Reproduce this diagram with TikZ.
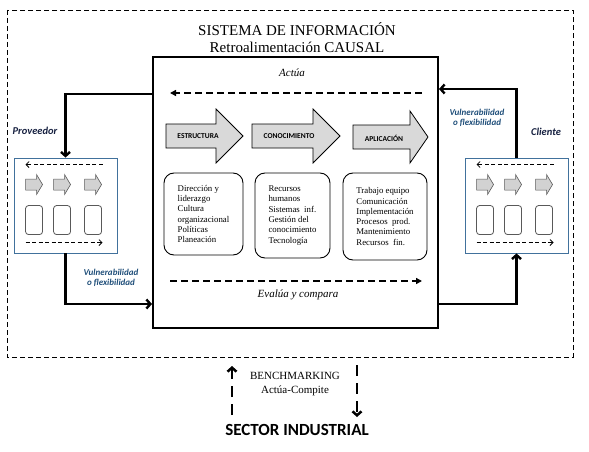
\documentclass[tikz,border=0pt]{standalone}
\usepackage{fontspec}
\setmainfont{Liberation Serif}
\newfontfamily\calib{Carlito}
\usetikzlibrary{arrows.meta,calc}
\definecolor{panelblue}{RGB}{65,113,156}
\definecolor{vulblue}{RGB}{31,78,121}
\definecolor{navytxt}{RGB}{22,32,64}
\definecolor{arrowgray}{RGB}{217,217,217}
\definecolor{smallgray}{RGB}{210,210,210}
\definecolor{smalledge}{RGB}{89,89,89}
\tikzset{
  mainbox/.style={draw,line width=2pt,minimum width=285pt,minimum height=271pt,inner sep=0pt},
  panel/.style={draw=panelblue,line width=0.9pt,minimum width=103pt,minimum height=95pt,inner sep=0pt,fill=white},
  conn/.style={line width=2.4pt,-{Straight Barb[length=4pt,width=9pt]}},
  bigarrow/.style={fill=arrowgray,draw=black,line width=0.8pt},
  biglbl/.style={font=\calib\bfseries\fontsize{7.5}{9}\selectfont,inner sep=0pt},
  rbox/.style={draw,line width=0.9pt,rounded corners=10pt,align=left,inner sep=0pt,
    font=\fontsize{8.8}{10.3}\selectfont},
  smallarrow/.style={fill=smallgray,draw=smalledge,line width=0.6pt},
  sbox/.style={draw=smalledge,line width=0.8pt,rounded corners=3pt},
  pdash/.style={line width=0.8pt,dash pattern=on 4pt off 2.5pt,-{Straight Barb[length=3pt,width=6pt]}},
  mdash/.style={line width=2pt,dash pattern=on 7pt off 4pt,-{Triangle[length=6pt,width=6pt]}},
  outerdash/.style={line width=0.9pt,dash pattern=on 5pt off 3pt},
  bdash/.style={line width=2.5pt,dash pattern=on 11pt off 7pt,-{Straight Barb[length=4pt,width=9pt]}},
  lbl/.style={inner sep=0pt,align=center},
  sidelbl/.style={inner sep=0pt,font=\calib\bfseries\itshape\fontsize{10.5}{12}\selectfont,text=navytxt},
  vullbl/.style={inner sep=0pt,align=center,font=\calib\bfseries\itshape\fontsize{9}{10.5}\selectfont,text=vulblue}
}
\newcommand\panelstuff[1]{%
  \begin{scope}[shift={(#1.north west)}]
    \draw[pdash] (89,7) -- (12,7);
    \foreach \xx in {12,40,71} {
      \draw[smallarrow] (\xx,21.5) -- (\xx+11,21.5) -- (\xx+11,17) -- (\xx+17,27)
        -- (\xx+11,37) -- (\xx+11,32.5) -- (\xx,32.5) -- cycle;
      \draw[sbox] (\xx,48) rectangle (\xx+17,77);
    }
    \draw[pdash] (12,85) -- (89,85);
  \end{scope}}
\begin{document}
\begin{tikzpicture}[x=1pt,y=-1pt]
\useasboundingbox (0,0) rectangle (589,452);
% outer dashed frame
\draw[outerdash] (7,10) rectangle (573,357);
% title
\node[lbl,font=\fontsize{15}{17}\selectfont] (title) at (297,37.5) {SISTEMA DE INFORMACIÓN\\Retroalimentación CAUSAL};
% main box
\node[mainbox] (main) at (295.5,192.5) {};
\node[lbl,font=\itshape\fontsize{11}{13}\selectfont] (actua) at (292,73) {Actúa};
\coordinate (a0) at (422,93);
\coordinate (a1) at (170,93);
\draw[mdash] (a0) -- (a1);
% big arrows
\draw[bigarrow] (166,124) -- (216,124) -- (216,109) -- (243,136) -- (216,163) -- (216,148) -- (166,148) -- cycle;
\draw[bigarrow] (252,124) -- (313,124) -- (313,109) -- (340,136) -- (313,163) -- (313,148) -- (252,148) -- cycle;
\draw[bigarrow] (353,125) -- (410,125) -- (410,111) -- (428,137) -- (410,163) -- (410,149) -- (353,149) -- cycle;
\node[biglbl] (estr) at (198,136) {ESTRUCTURA};
\node[biglbl] (cono) at (289,136) {CONOCIMIENTO};
\node[biglbl] (apli) at (384,138) {APLICACIÓN};
% rounded boxes
\node[rbox,minimum width=79pt,minimum height=82pt] (b1) at (203.5,214) {Dirección y\\liderazgo\\Cultura\\organizacional\\Políticas\\Planeación};
\node[rbox,minimum width=75pt,minimum height=85pt] (b2) at (292.5,215.5) {Recursos\\humanos\\Sistemas\ \ inf.\\Gestión del\\conocimiento\\Tecnología};
\node[rbox,minimum width=84pt,minimum height=87pt] (b3) at (385,216.5) {Trabajo equipo\\Comunicación\\Implementación\\Procesos\ \ prod.\\Mantenimiento\\Recursos\ \ fin.};
\coordinate (e0) at (170,281);
\coordinate (e1) at (422,281);
\draw[mdash] (e0) -- (e1);
\node[lbl,font=\itshape\fontsize{11}{13}\selectfont] (evalua) at (298,295) {Evalúa y compara};
% side panels
\node[panel] (prov) at (65.5,205.5) {};
\node[panel] (cli) at (516.5,205.5) {};
\panelstuff{prov}
\panelstuff{cli}
\node[sidelbl] (provl) at (35,131) {Proveedor};
\node[sidelbl] (clil) at (546,132) {Cliente};
\node[vullbl] (vul1) at (111,278) {Vulnerabilidad\\o flexibilidad};
\node[vullbl] (vul2) at (477,118) {Vulnerabilidad\\o flexibilidad};
% connectors
\draw[conn] ([yshift=-38pt]main.north west) -| (prov.north);
\draw[conn] (prov.south) |- ([yshift=-248pt]main.north west);
\draw[conn] (cli.north) |- ([yshift=-33pt]main.north east);
\draw[conn] ([yshift=-248pt]main.north east) -| (cli.south);
% bottom
\node[lbl,font=\fontsize{11}{14}\selectfont] (bench) at (295,384) {BENCHMARKING\\Actúa-Compite};
\coordinate (u0) at (232,415);
\coordinate (u1) at (232,366);
\draw[bdash] (u0) -- (u1);
\coordinate (d0) at (357,365);
\coordinate (d1) at (357,417);
\draw[bdash] (d0) -- (d1);
\node[lbl,font=\calib\bfseries\fontsize{17}{20}\selectfont] (sector) at (297,430) {SECTOR INDUSTRIAL};
\end{tikzpicture}
\end{document}
